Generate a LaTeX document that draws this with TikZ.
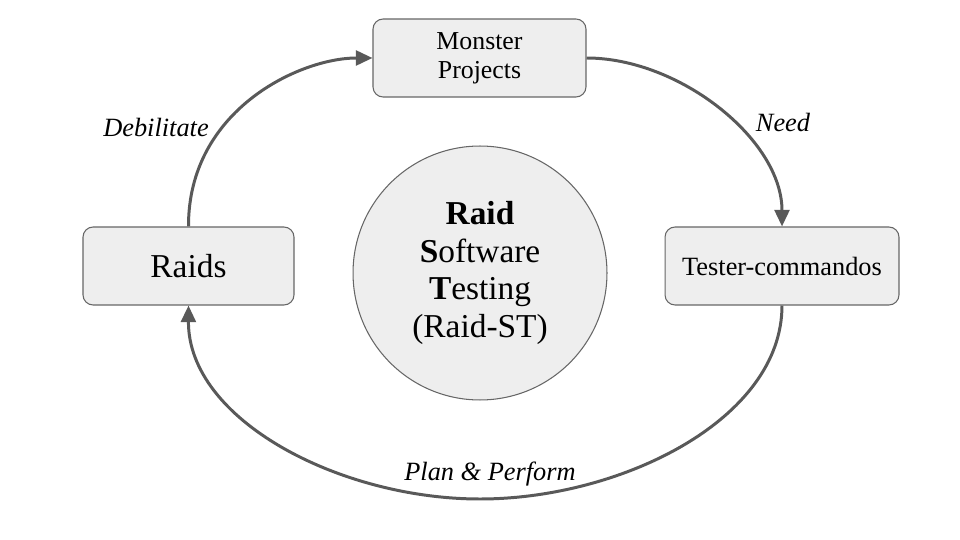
\documentclass[tikz,border=0pt]{standalone}
\usepackage{fontspec}
\setmainfont{Liberation Serif}
\usetikzlibrary{arrows.meta}

\definecolor{boxfill}{HTML}{EEEEEE}
\definecolor{boxline}{HTML}{666666}
\definecolor{flowline}{HTML}{595959}

\begin{document}
\begin{tikzpicture}[x=0.02cm,y=-0.02cm,
    box/.style={draw=boxline,fill=boxfill,line width=0.6pt,rounded corners=5.7pt,
      minimum height=1.56cm,inner sep=0pt,align=center},
    flow/.style={draw=flowline,line width=1.7pt,-{Triangle[width=8.5pt,length=9.5pt]}},
    lbl/.style={font=\fontsize{15}{18}\selectfont\itshape}]
    \useasboundingbox (0,0) rectangle (960,540);
    \node[box,minimum width=4.26cm,font=\fontsize{14.7}{16.4}\selectfont] (monster) at (479.5,58) {Monster\\Projects};
    \node[box,minimum width=4.22cm,font=\fontsize{19}{22}\selectfont] (raids) at (188.5,266) {Raids};
    \node[box,minimum width=4.68cm,font=\fontsize{15}{18}\selectfont] (tester) at (782,266) {Tester-commandos};
    \node[circle,draw=boxline,fill=boxfill,line width=0.6pt,minimum size=5.08cm,inner sep=0pt,align=center,
      font=\fontsize{19}{21.3}\selectfont] (raidst) at (480,273)
      {\textbf{Raid}\\\textbf{S}oftware\\\textbf{T}esting\\(Raid-ST)};
    \coordinate (bottom) at (480,499);
    \draw[flow] (raids.north) .. controls (188,110) and (300,58) .. (monster.west);
    \draw[flow] (monster.east) .. controls (680,58) and (782,140) .. (tester.north);
    \draw[flow] (tester.south) .. controls (782,420) and (620,499) .. (bottom)
      .. controls (340,499) and (188,420) .. (raids.south);
    \node[lbl] (debilitate) at (156,127) {Debilitate};
    \node[lbl] (need) at (783,122) {Need};
    \node[lbl] (plan) at (490,474) {Plan \& Perform};
\end{tikzpicture}
\end{document}
